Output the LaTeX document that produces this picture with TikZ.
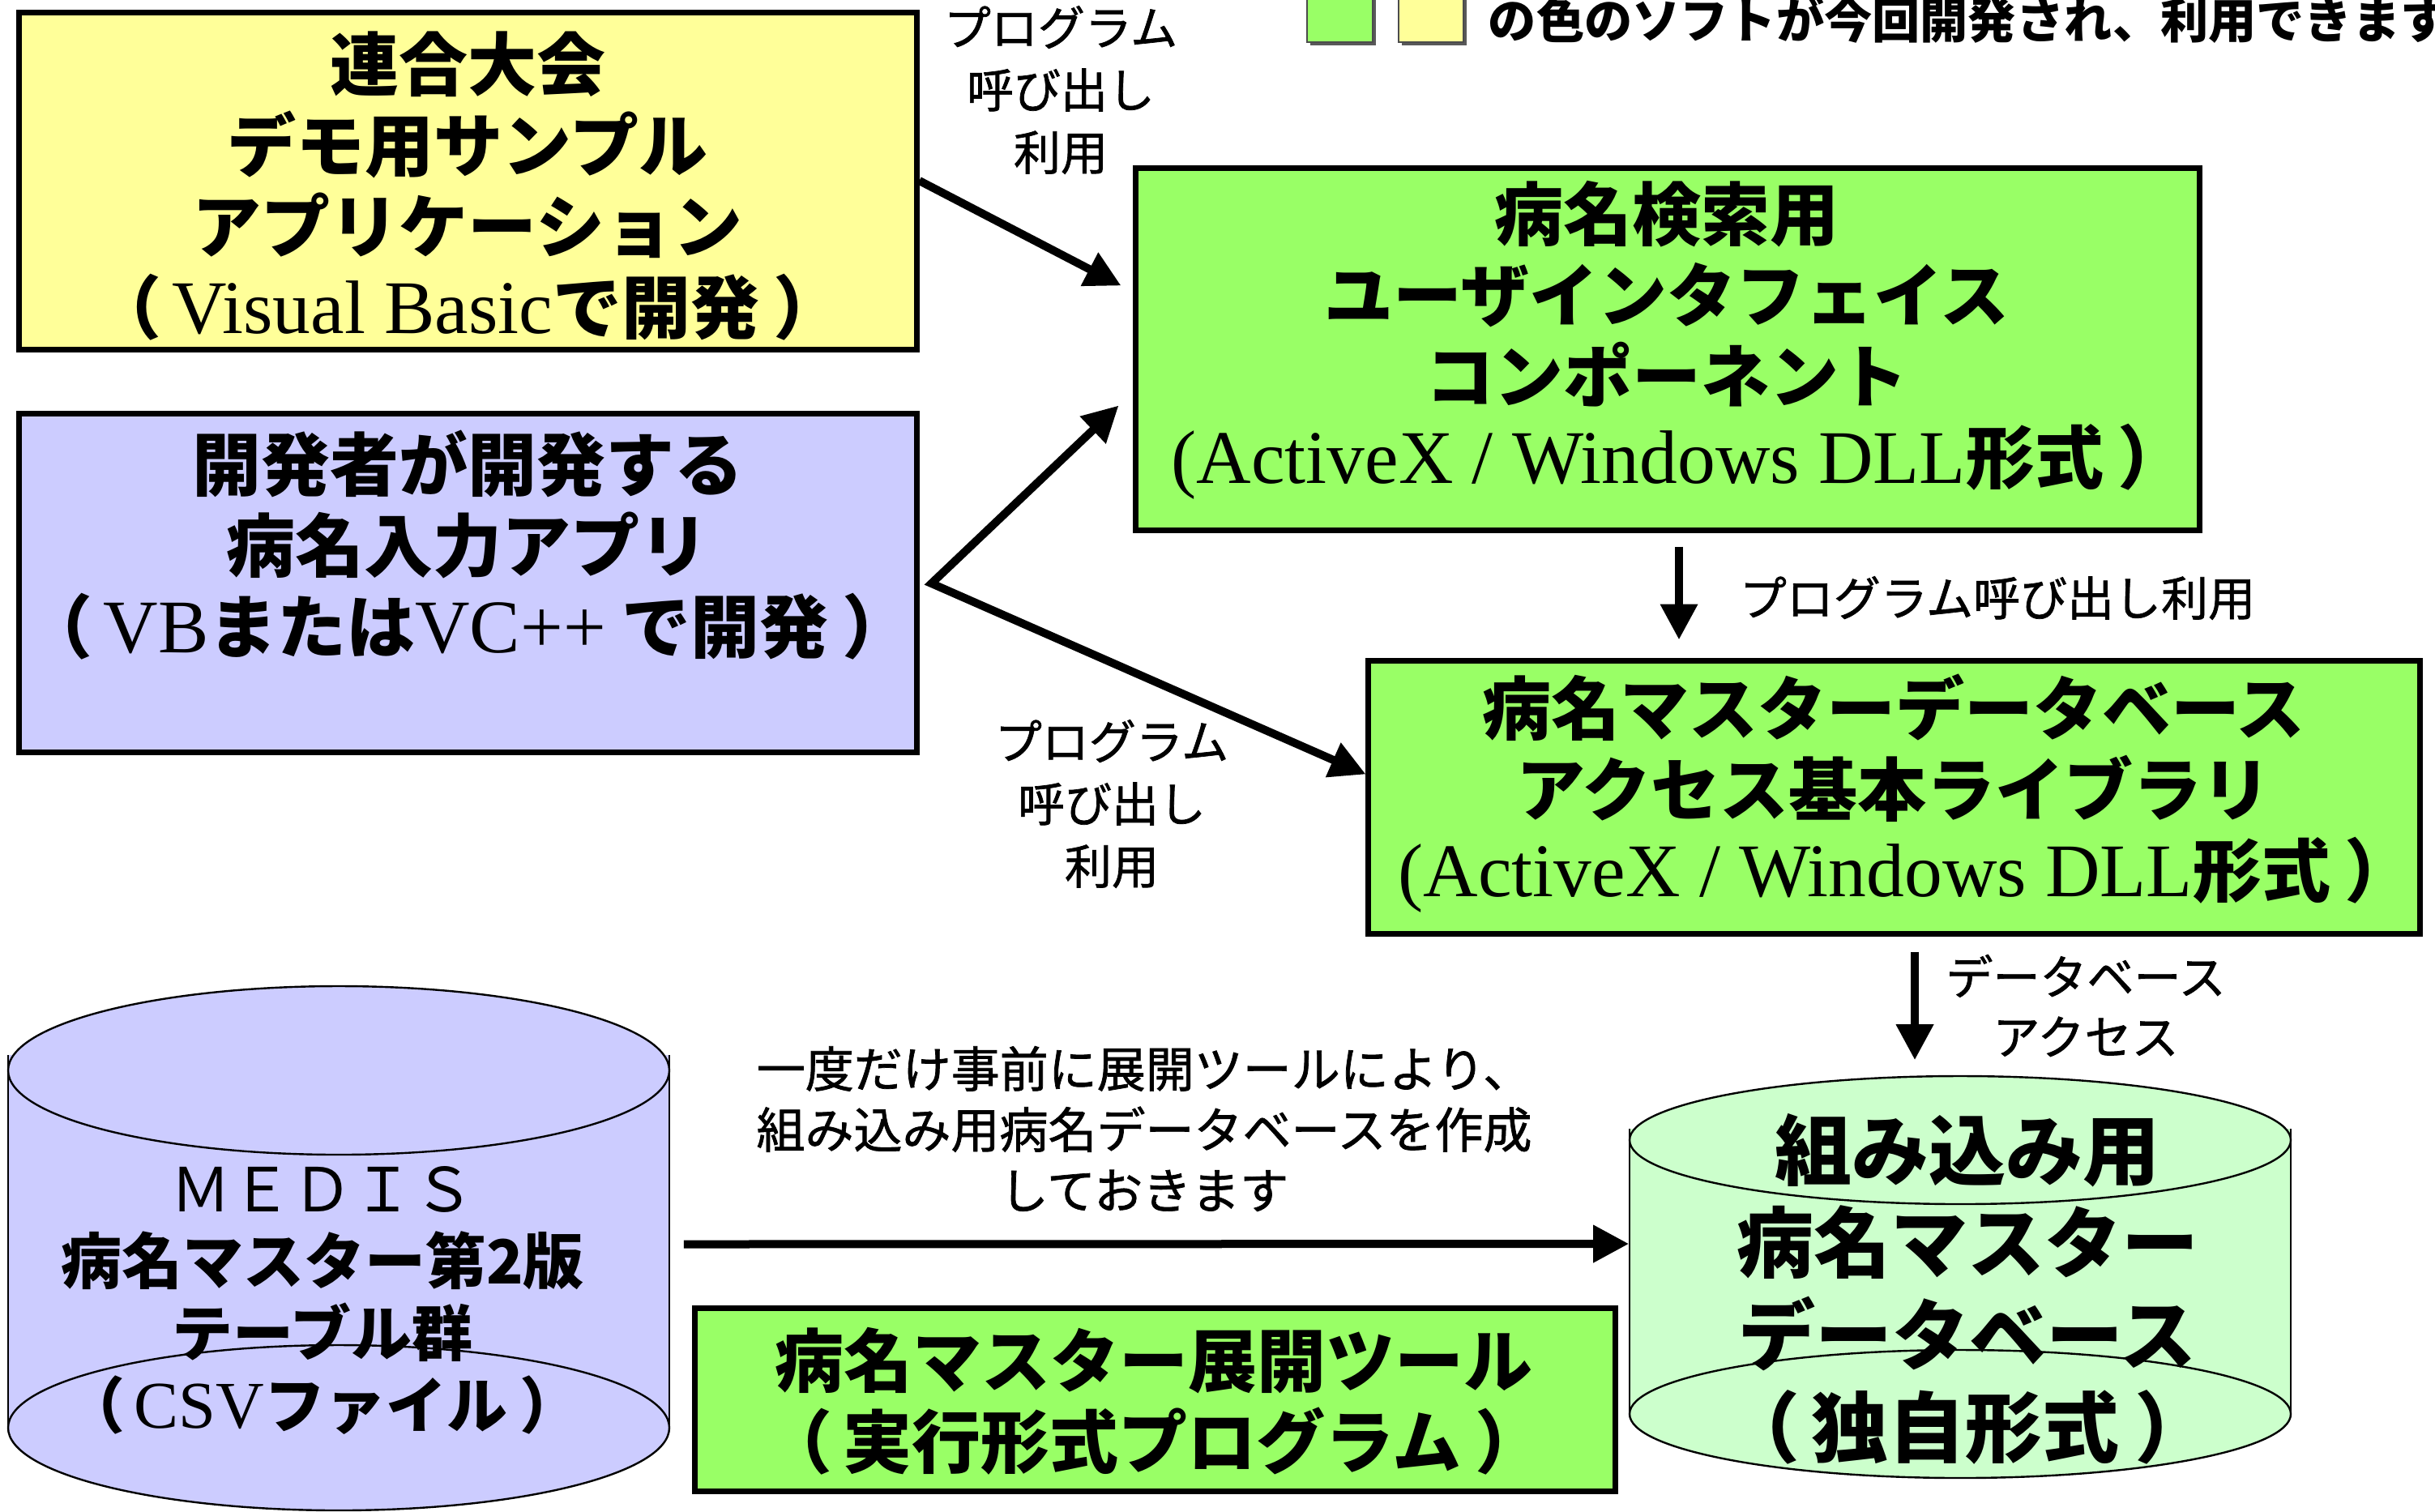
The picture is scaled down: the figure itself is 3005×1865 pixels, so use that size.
\documentclass[tikz,border=0pt]{standalone}
\usepackage{fontspec}
\setmainfont{Noto Sans CJK JP}
\newfontfamily\lat{Liberation Serif}[Scale=1.1]
\newfontfamily\jpmed{Noto Sans CJK JP}[FakeBold=1.2]
\newcommand\LT[1]{{\lat\mdseries #1}}
\newcommand\LP{\kern-0.35em（\kern0.15em}
\newcommand\RP{\kern0.2em）\kern-0.35em}
\usetikzlibrary{arrows.meta,calc}
\definecolor{gfill}{HTML}{99FF66}
\definecolor{yfill}{HTML}{FFFF99}
\definecolor{bfill}{HTML}{CCCCFF}
\definecolor{lgfill}{HTML}{CCFFCC}
\def\u{0.25pt}
\begin{document}
\begin{tikzpicture}[x=0.25pt,y=-0.25pt,
  boxshape/.style={draw=black, line width=1.75pt, inner sep=0pt},
  boxtxt/.style={align=center, inner sep=0pt, font=\fontsize{21.25}{25}\selectfont\bfseries},
  lbl/.style={align=center, inner sep=0pt, font=\fontsize{14.5}{19.25}\selectfont\jpmed},
  arr/.style={line width=2.5pt, -{Triangle[length=11pt,width=11pt]}},
  cyl/.style={line width=0.6pt, draw=black},
  hold/.style={draw=none, inner sep=0pt}]
\useasboundingbox (0,0) rectangle (3005,1865);
\clip (0,0) rectangle (3005,1865);
\fill[white] (0,0) rectangle (3005,1865);

% legend
\fill[black!65] (1617,-10) rectangle (1698,56);
\filldraw[fill=gfill, draw=black!70, line width=0.4pt] (1613,-14) rectangle (1694,52);
\fill[black!65] (1730,-10) rectangle (1810,56);
\filldraw[fill=yfill, draw=black!70, line width=0.4pt] (1726,-14) rectangle (1806,52);
\node[anchor=base west, inner sep=0pt, font=\fontsize{14.8}{16}\selectfont\bfseries] (legend) at (1836,47) {の色のソフトが今回開発され、利用できます};

% boxes
\node[boxshape, fill=yfill, minimum width=1108*\u, minimum height=416*\u] (y) at (577,223) {};
\node[boxtxt] (yt) at (577,230) {連合大会\\デモ用サンプル\\アプリケーション\\\LP\LT{Visual Basic}で開発\RP};

\node[boxshape, fill=bfill, minimum width=1108*\u, minimum height=418*\u] (b) at (577,719) {};
\node[boxtxt] (bt) at (577,673) {開発者が開発する\\病名入力アプリ\\\LP\LT{VB}または\LT{VC++} で開発\RP};

\node[boxshape, fill=gfill, minimum width=1313*\u, minimum height=447*\u] (g1) at (2057.5,430.5) {};
\node[boxtxt] (g1t) at (2057,420) {病名検索用\\ユーザインタフェイス\\コンポーネント\\\LT{(ActiveX / Windows DLL}形式\RP};

\node[boxshape, fill=gfill, minimum width=1298*\u, minimum height=337*\u] (g2) at (2337,983.5) {};
\node[boxtxt] (g2t) at (2337,979) {病名マスターデータベース\\アクセス基本ライブラリ\\\LT{(ActiveX / Windows DLL}形式\RP};

\node[boxshape, fill=gfill, minimum width=1136*\u, minimum height=226*\u] (g3) at (1425,1727) {};
\node[boxtxt] (g3t) at (1424,1729) {病名マスター展開ツール\\\LP 実行形式プログラム\RP};

% cylinder MEDIS
\fill[bfill] (10,1302) rectangle (826,1762);
\draw[cyl] (10,1302) -- (10,1762) (826,1302) -- (826,1762);
\filldraw[cyl, fill=bfill] (418,1762) ellipse [x radius=408, y radius=102];
\filldraw[cyl, fill=bfill] (418,1321) ellipse [x radius=408, y radius=104];
\node[hold, minimum width=816*\u, minimum height=647*\u] (m) at (418,1540.5) {};
\node[align=center, inner sep=0pt, font=\fontsize{18.75}{22.25}\selectfont\bfseries] (mt) at (398,1605)
  {{\mdseries ＭＥＤＩＳ}\\病名マスター第2版\\テーブル群\\\LP\LT{CSV}ファイル\RP};

% cylinder DB
\fill[lgfill] (2011,1393) rectangle (2827,1745);
\draw[cyl] (2011,1393) -- (2011,1745) (2827,1393) -- (2827,1745);
\filldraw[cyl, fill=lgfill] (2419,1745) ellipse [x radius=408, y radius=79];
\filldraw[cyl, fill=lgfill] (2419,1407) ellipse [x radius=408, y radius=79];
\node[hold, minimum width=816*\u, minimum height=496*\u] (c2) at (2419,1576) {};
\node[align=center, inner sep=0pt, font=\fontsize{23.75}{28.5}\selectfont\bfseries] (c2t) at (2428,1591)
  {組み込み用\\病名マスター\\データベース\\\LP 独自形式\RP};

% labels
\node[lbl] (l1) at (1309,111) {プログラム\\呼び出し\\利用};
\node[lbl] (l2) at (1372,992) {プログラム\\呼び出し\\利用};
\node[lbl, anchor=west] (l3) at (2146,738) {プログラム呼び出し利用};
\node[lbl, font=\fontsize{14.5}{18.5}\selectfont\jpmed] (l4) at (2574,1241) {データベース\\アクセス};
\node[lbl, font=\fontsize{15}{18.75}\selectfont\jpmed] (l5) at (1412,1393) {一度だけ事前に展開ツールにより、\\組み込み用病名データベースを作成\\しておきます};

% connectors
\draw[arr] (y.east) -- ($(g1.west)+(-14,-78)$);
\coordinate (j) at ($(b.east)+(15,1)$);
\draw[line width=2.5pt, {Triangle[length=11pt,width=11pt]}-{Triangle[length=11pt,width=11pt]}]
  ($(g1.west)+(-17,70)$) -- (j) -- ($(g2.west)+(1,-28)$);
\coordinate (a3) at ($(g1.south)+(14.5,17)$);
\draw[arr] (a3) -- ([yshift=5.5pt]a3 |- g2.north);
\coordinate (a4) at ($(g2.south)+(26,19)$);
\draw[arr] (a4) -- ([yshift=4.75pt]a4 |- c2.north);
\draw[arr] ($(m.east)+(17,-5)$) -- ($(c2.west)+(0,-41)$);
\end{tikzpicture}
\end{document}
